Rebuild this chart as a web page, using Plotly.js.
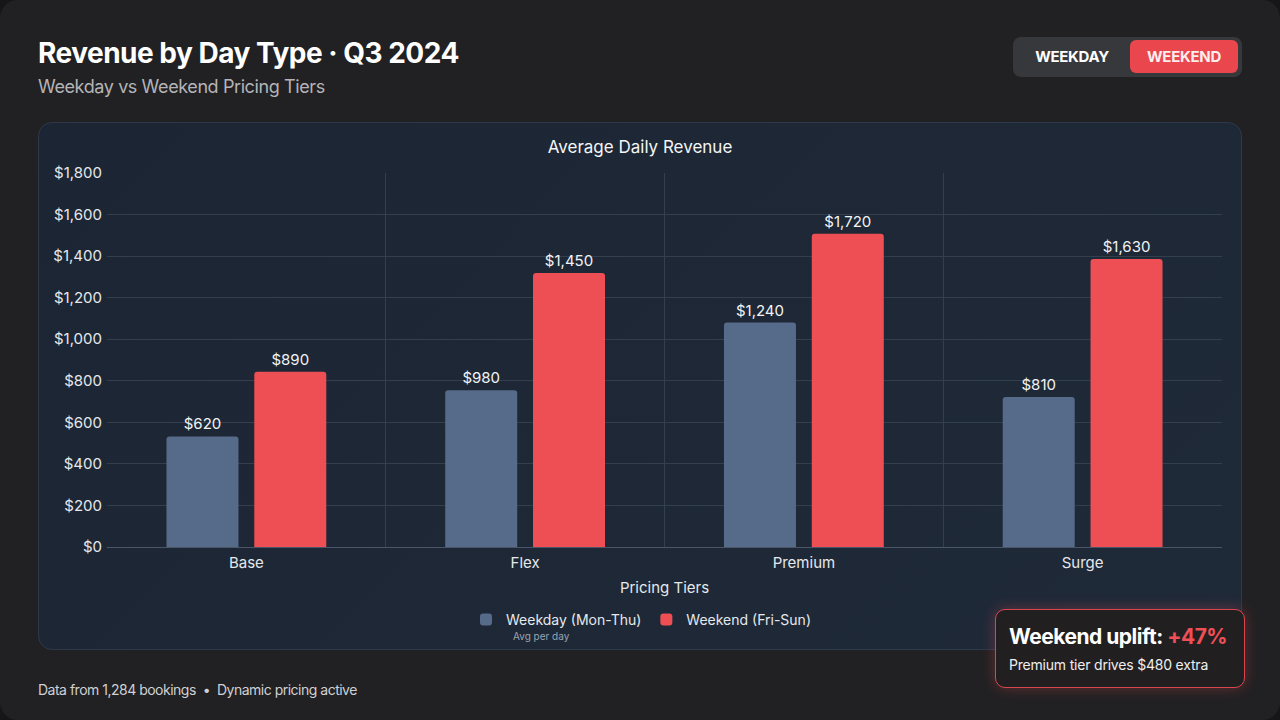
<!DOCTYPE html>
<html>
<head>
<meta charset="utf-8">
<script src="https://cdn.plot.ly/plotly-3.0.1.min.js"></script>
<style>
  html, body { margin: 0; padding: 0; background: #161617; }
  body { width: 1280px; height: 720px; overflow: hidden; font-family: Inter, "Noto Sans", sans-serif; }
  #frame {
    position: absolute; left: 0; top: 0; width: 1280px; height: 720px;
    background: #212123; border-radius: 18px;
  }
  #title {
    position: absolute; left: 38px; top: 36px; margin: 0;
    font-size: 28px; font-weight: 700; color: #ffffff; letter-spacing: -0.5px;
  }
  #subtitle {
    position: absolute; left: 38px; top: 76px; margin: 0;
    font-size: 18px; color: #b4b4b8; letter-spacing: -0.4px;
  }
  #toggle {
    position: absolute; left: 1013px; top: 37px; width: 229px; height: 40px;
    background: #37383b; border-radius: 8px;
  }
  #toggle .opt {
    position: absolute; top: 3px; height: 33px; line-height: 33px;
    font-size: 15px; font-weight: 700; color: #ffffff; text-align: center; letter-spacing: -0.3px;
  }
  #toggle .off { left: 4px; width: 110px; }
  #toggle .on { left: 117px; width: 108px; background: #e9464d; border-radius: 6px; color: #fdeeee; }
  #card {
    position: absolute; left: 38px; top: 122px; width: 1202px; height: 526px;
    background: linear-gradient(135deg, #1c2533 0%, #1f2a39 100%);
    border: 1px solid #2d3949; border-radius: 14px;
  }
  #chart { position: absolute; left: 0; top: 0; width: 1280px; height: 720px; }
  #footer {
    position: absolute; left: 38px; top: 681px; margin: 0;
    font-size: 14px; color: #d0d0d4; letter-spacing: -0.5px;
  }
  #callout {
    position: absolute; left: 995px; top: 609px; width: 250px; height: 79px;
    background: #221f21; border: 1.5px solid #d9474e; border-radius: 10px;
    box-shadow: 0 0 14px rgba(233, 70, 77, 0.35);
    box-sizing: border-box;
  }
  #callout .big {
    position: absolute; left: 13px; top: 14px; font-size: 21px; font-weight: 700;
    color: #ffffff; letter-spacing: -0.5px; white-space: nowrap;
  }
  #callout .big span { color: #ef4f55; }
  #callout .small {
    position: absolute; left: 13px; top: 46px; font-size: 14px; color: #eeeeee;
    letter-spacing: -0.2px; white-space: nowrap;
  }
</style>
</head>
<body>
<div id="frame"></div>
<h1 id="title">Revenue by Day Type · Q3 2024</h1>
<p id="subtitle">Weekday vs Weekend Pricing Tiers</p>
<div id="toggle">
  <div class="opt off">WEEKDAY</div>
  <div class="opt on">WEEKEND</div>
</div>
<div id="card"></div>
<div id="chart"></div>
<p id="footer">Data from 1,284 bookings &nbsp;•&nbsp; Dynamic pricing active</p>
<div id="callout">
  <div class="big">Weekend uplift: <span>+47%</span></div>
  <div class="small">Premium tier drives $480 extra</div>
</div>

<script>
// Data
const tiers = ['Base', 'Flex', 'Premium', 'Surge'];

// bar heights as drawn
const weekdayBars = [532, 754, 1080, 722];
const weekendBars = [844, 1319, 1508, 1386];

// values printed above the bars
const weekdayLabels = [620, 980, 1240, 810];
const weekendLabels = [890, 1450, 1720, 1630];

const yTicks = [0, 200, 400, 600, 800, 1000, 1200, 1400, 1600, 1800];

const money = v => '$' + v.toLocaleString('en-US');

const COLORS = {
  weekday: '#566b89',
  weekend: '#ee4f55',
  grid: '#343f4e',
  axis: '#4a5667',
  text: '#e6e8ec'
};

const FONT = 'Inter, "Noto Sans", sans-serif';

const traceWeekday = {
  type: 'bar',
  name: 'Weekday (Mon-Thu)',
  x: tiers,
  y: weekdayBars,
  text: weekdayLabels.map(money),
  textposition: 'outside',
  textfont: { family: FONT, size: 15, color: '#f2f3f5' },
  cliponaxis: false,
  marker: { color: COLORS.weekday },
  hoverinfo: 'skip'
};

const traceWeekend = {
  type: 'bar',
  name: 'Weekend (Fri-Sun)',
  x: tiers,
  y: weekendBars,
  text: weekendLabels.map(money),
  textposition: 'outside',
  textfont: { family: FONT, size: 15, color: '#f2f3f5' },
  cliponaxis: false,
  marker: { color: COLORS.weekend },
  hoverinfo: 'skip'
};

const layout = {
  width: 1280,
  height: 720,
  paper_bgcolor: 'rgba(0,0,0,0)',
  plot_bgcolor: 'rgba(0,0,0,0)',
  margin: { l: 107, r: 58, t: 173, b: 173 },
  font: { family: FONT, color: COLORS.text, size: 15 },
  title: {
    text: 'Average Daily Revenue',
    font: { family: FONT, size: 17, color: '#f4f5f7' },
    xref: 'container', yref: 'container',
    x: 0.5, xanchor: 'center',
    y: 1 - 147 / 720, yanchor: 'middle'
  },
  barmode: 'group',
  bargap: 0.37,
  bargroupgap: 0.18,
  barcornerradius: 3,
  xaxis: {
    title: {
      text: 'Pricing Tiers',
      font: { family: FONT, size: 15, color: COLORS.text },
      standoff: 11
    },
    tickson: 'boundaries',
    showgrid: true,
    gridcolor: COLORS.grid,
    showline: true,
    linecolor: COLORS.axis,
    ticks: '',
    ticklabelstandoff: 2,
    tickfont: { family: FONT, size: 15, color: COLORS.text },
    automargin: false,
    fixedrange: true
  },
  yaxis: {
    range: [0, 1800],
    tickvals: yTicks,
    ticktext: yTicks.map(money),
    showgrid: true,
    gridcolor: COLORS.grid,
    zeroline: false,
    ticks: '',
    ticklabelstandoff: 4,
    tickfont: { family: FONT, size: 15, color: COLORS.text },
    automargin: false,
    fixedrange: true
  },
  showlegend: true,
  legend: {
    orientation: 'h',
    x: (641 - 107) / 1115, xanchor: 'center',
    y: (547 - 620) / 374, yanchor: 'middle',
    font: { family: FONT, size: 14, color: COLORS.text },
    bgcolor: 'rgba(0,0,0,0)',
    itemwidth: 30,
    tracegroupgap: 0
  },
  annotations: [
    {
      text: 'Avg per day',
      xref: 'paper', yref: 'paper',
      x: (511 - 107) / 1115, xanchor: 'left',
      y: (547 - 636) / 374, yanchor: 'middle',
      showarrow: false,
      font: { family: FONT, size: 10, color: '#9aa3b0' }
    }
  ]
};

const config = { displayModeBar: false, staticPlot: true, responsive: false };

Plotly.newPlot('chart', [traceWeekday, traceWeekend], layout, config);
</script>
</body>
</html>
